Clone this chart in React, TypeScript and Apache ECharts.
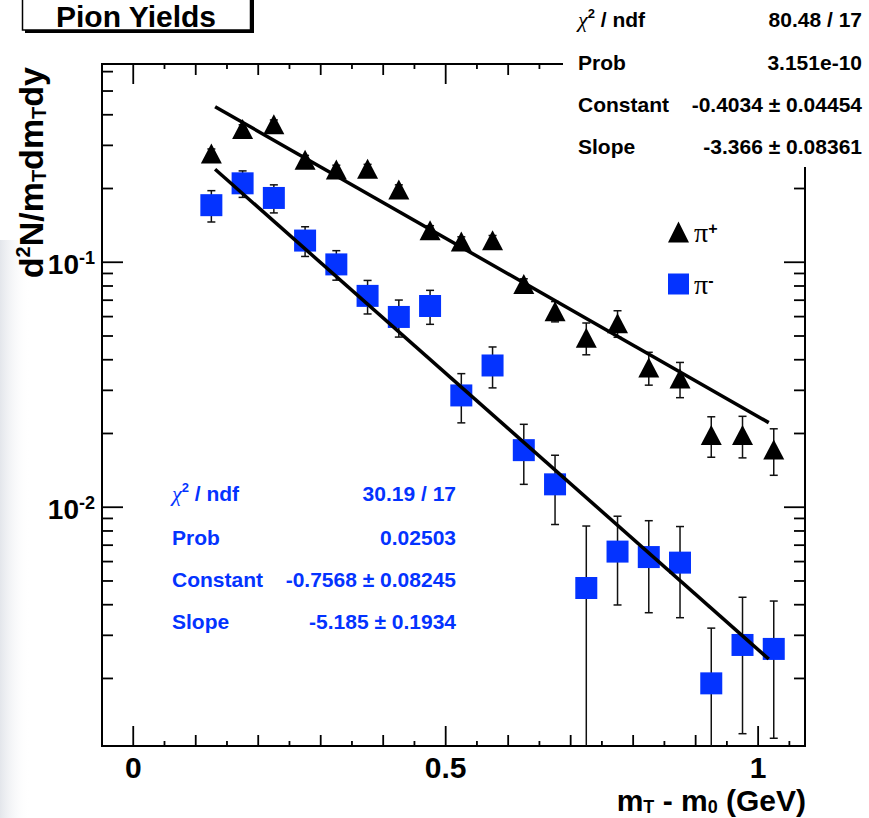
import React, { useEffect, useRef } from 'react';
import * as echarts from 'echarts';

// ---------- data ----------
const binCenters = [0.125, 0.175, 0.225, 0.275, 0.325, 0.375, 0.425, 0.475, 0.525, 0.575, 0.625, 0.675, 0.725, 0.775, 0.825, 0.875, 0.925, 0.975, 1.025];
const piPlusYield = [0.278, 0.35, 0.366, 0.262, 0.239, 0.241, 0.198, 0.135, 0.1215, 0.123, 0.0816, 0.0631, 0.0492, 0.0564, 0.0372, 0.0335, 0.0197, 0.0197, 0.0172];
const piPlusErr = [0.012, 0.014, 0.015, 0.011, 0.01, 0.01, 0.009, 0.006, 0.0055, 0.0056, 0.004, 0.006, 0.0073, 0.007, 0.0057, 0.0055, 0.0037, 0.0038, 0.0037];
const piMinusYield = [0.171, 0.21, 0.183, 0.1226, 0.098, 0.0729, 0.0598, 0.0663, 0.0286, 0.0379, 0.0171, 0.0124, 0.00468, 0.00659, 0.00626, 0.00594, 0.00191, 0.00274, 0.00264];
const piMinusErr = [0.025, 0.026, 0.024, 0.017, 0.0135, 0.0114, 0.0103, 0.0105, 0.0065, 0.0072, 0.0047, 0.0039, 0.0037, 0.0026, 0.00255, 0.0024, 0.0013, 0.00155, 0.0015];

// fit lines (end points)
const piPlusFitX = [0.131, 1.017];
const piPlusFitY = [0.4315, 0.02215];
const piMinusFitX = [0.131, 1.017];
const piMinusFitY = [0.2396, 0.0024];

// axes
const X_MIN = -0.05;
const X_MAX = 1.075;
const Y_MIN = 0.00106;
const Y_MAX = 0.6446;
const xMajorTicks = [0, 0.5, 1];
const xMajorLabels = ['0', '0.5', '1'];
const xMidTicks = [0.1, 0.2, 0.3, 0.4, 0.6, 0.7, 0.8, 0.9];
const xMinorTicks = [0.05, 0.15, 0.25, 0.35, 0.45, 0.55, 0.65, 0.75, 0.85, 0.95, 1.05];
const yMajorTicks = [0.01, 0.1];
const yMajorExponents = ['-2', '-1'];
const yMinorTicks = [0.002, 0.003, 0.004, 0.005, 0.006, 0.007, 0.008, 0.009, 0.02, 0.03, 0.04, 0.05, 0.06, 0.07, 0.08, 0.09, 0.2, 0.3, 0.4, 0.5, 0.6];

// texts
const chartTitle = 'Pion Yields';
const statLabels = ['χ² / ndf', 'Prob', 'Constant', 'Slope'];
const piPlusStats = ['80.48 / 17', '3.151e-10', '-0.4034 ± 0.04454', '-3.366 ± 0.08361'];
const piMinusStats = ['30.19 / 17', '0.02503', '-0.7568 ± 0.08245', '-5.185 ± 0.1934'];
const seriesNames = ['π⁺', 'π⁻'];

const FONT = '"Liberation Sans", Arial, Helvetica, sans-serif';
const SERIF = '"Liberation Serif", "DejaVu Serif", serif';
const BLUE = '#0433ff';

function statRich(color: string) {
  return {
    n: { fontFamily: FONT, fontWeight: 'bold', fontSize: 21, color, lineHeight: 24 },
    c: { fontFamily: SERIF, fontStyle: 'italic', fontSize: 22, color, lineHeight: 24 },
    s: { fontFamily: FONT, fontWeight: 'bold', fontSize: 13, color, lineHeight: 12, verticalAlign: 'top' },
  };
}
function statLabelText(i: number) {
  if (i === 0) return '{c|χ}{s|2}{n| / ndf}';
  return '{n|' + statLabels[i] + '}';
}

function statsBlock(values: string[], color: string, left: number, right: number, ys: number[]) {
  const els: any[] = [];
  ys.forEach((y, i) => {
    els.push({
      type: 'text', x: left, y, z: 60,
      style: { text: statLabelText(i), rich: statRich(color), align: 'left', verticalAlign: 'middle', fill: color },
    });
    els.push({
      type: 'text', x: right, y, z: 60,
      style: { text: values[i], font: 'bold 21px ' + FONT, fill: color, align: 'right', verticalAlign: 'middle' },
    });
  });
  return els;
}

export default function App() {
  const ref = useRef<HTMLDivElement>(null);
  useEffect(() => {
    document.body.style.margin = '0';
    const chart = echarts.init(ref.current as HTMLDivElement, null, { renderer: 'svg', width: 869, height: 818 });

    const tickStyle = { stroke: '#000', lineWidth: 1.8 };
    const xTickData: number[][] = [
      ...xMajorTicks.map((v) => [v, Y_MIN, 0]),
      ...xMidTicks.map((v) => [v, Y_MIN, 1]),
      ...xMinorTicks.map((v) => [v, Y_MIN, 2]),
    ];
    const yTickData: number[][] = [
      ...yMajorTicks.map((v) => [X_MIN, v, 0]),
      ...yMinorTicks.map((v) => [X_MIN, v, 1]),
    ];
    const xLen = [20, 11, 5];
    const yLen = [21, 11];

    const errBar = (params: any, api: any) => {
      const x = api.value(0) as number;
      const y = api.value(1) as number;
      const e = api.value(2) as number;
      const hiV = Math.min(y + e, Y_MAX);
      const clamped = y - e <= Y_MIN;
      const loV = clamped ? Y_MIN : y - e;
      const top = api.coord([x, hiV]);
      const bot = api.coord([x, loV]);
      const st = { stroke: '#111', lineWidth: 1.5 };
      const cap = 4;
      const children: any[] = [
        { type: 'line', shape: { x1: top[0], y1: top[1], x2: bot[0], y2: bot[1] }, style: st },
        { type: 'line', shape: { x1: top[0] - cap, y1: top[1], x2: top[0] + cap, y2: top[1] }, style: st },
      ];
      if (!clamped) children.push({ type: 'line', shape: { x1: bot[0] - cap, y1: bot[1], x2: bot[0] + cap, y2: bot[1] }, style: st });
      return { type: 'group', children };
    };

    const labelRich = {
      b: { fontFamily: FONT, fontWeight: 'bold', fontSize: 28, color: '#000', lineHeight: 30 },
      s: { fontFamily: FONT, fontWeight: 'bold', fontSize: 18, color: '#000', lineHeight: 18, verticalAlign: 'top' },
    };

    const option: any = {
      animation: false,
      backgroundColor: '#fff',
      grid: { left: 102, top: 64, width: 703, height: 682, show: true, borderColor: '#000', borderWidth: 2, backgroundColor: 'transparent' },
      xAxis: {
        type: 'value', min: X_MIN, max: X_MAX,
        axisLine: { show: false }, axisTick: { show: false }, axisLabel: { show: false }, splitLine: { show: false },
      },
      yAxis: {
        type: 'log', logBase: 10, min: Y_MIN, max: Y_MAX,
        axisLine: { show: false }, axisTick: { show: false }, axisLabel: { show: false }, splitLine: { show: false },
      },
      legend: {
        data: seriesNames,
        orient: 'vertical', left: 663, top: 213, itemWidth: 21, itemHeight: 21, itemGap: 24,
        selectedMode: false,
        formatter: (name: string) => (name === seriesNames[0] ? '{p|π}{s|+}' : '{p|π}{s|-}'),
        textStyle: {
          color: '#000', lineHeight: 21,
          rich: {
            p: { fontFamily: SERIF, fontSize: 28, color: '#000', lineHeight: 24 },
            s: { fontFamily: FONT, fontWeight: 'bold', fontSize: 16, color: '#000', lineHeight: 14, verticalAlign: 'top' },
          },
        },
      },
      graphic: [
        { type: 'rect', z: -5, shape: { x: 0, y: 240, width: 30, height: 578 },
          style: { fill: new echarts.graphic.LinearGradient(0, 0, 1, 0, [{ offset: 0, color: '#e3e6eb' }, { offset: 1, color: 'rgba(255,255,255,0)' }]) } },
        // title box
        { type: 'rect', z: 60, shape: { x: 25, y: -3, width: 229, height: 36 }, style: { fill: '#000' } },
        { type: 'rect', z: 61, shape: { x: 22.5, y: -3, width: 228, height: 33 }, style: { fill: '#fff', stroke: '#000', lineWidth: 1.5 } },
        { type: 'text', z: 62, x: 136, y: 16, style: { text: chartTitle, font: 'bold 30px ' + FONT, fill: '#000', align: 'center', verticalAlign: 'middle' } },
        // stats box (covers frame corner)
        { type: 'rect', z: 55, shape: { x: 563, y: 0, width: 306, height: 167 }, style: { fill: '#fff' } },
        ...statsBlock(piPlusStats, '#000', 578, 862, [19, 62, 104, 146]),
        ...statsBlock(piMinusStats, BLUE, 172, 456, [493, 537, 579, 621]),
        // axis titles
        { type: 'text', z: 20, x: 31, y: 67, rotation: Math.PI / 2,
          style: {
            text: '{n|d}{sup|2}{n|N/m}{sub|T}{n|dm}{sub|T}{n|dy}', align: 'right', verticalAlign: 'middle',
            rich: {
              n: { fontFamily: FONT, fontWeight: 'bold', fontSize: 34, color: '#000', lineHeight: 36 },
              sup: { fontFamily: FONT, fontWeight: 'bold', fontSize: 20, color: '#000', lineHeight: 19, verticalAlign: 'top' },
              sub: { fontFamily: FONT, fontWeight: 'bold', fontSize: 20, color: '#000', lineHeight: 15, verticalAlign: 'bottom' },
            },
          } },
        { type: 'text', z: 20, x: 806, y: 800,
          style: {
            text: '{n|m}{sub|T}{n| - m}{sub|0}{n| (GeV)}', align: 'right', verticalAlign: 'middle',
            rich: {
              n: { fontFamily: FONT, fontWeight: 'bold', fontSize: 30, color: '#000', lineHeight: 32 },
              sub: { fontFamily: FONT, fontWeight: 'bold', fontSize: 18, color: '#000', lineHeight: 14, verticalAlign: 'bottom' },
            },
          } },
      ],
      series: [
        {
          type: 'custom', name: 'xticks', silent: true, z: 5, data: xTickData,
          renderItem: (params: any, api: any) => {
            const cs = params.coordSys;
            const p = api.coord([api.value(0), Y_MIN]);
            const len = xLen[api.value(2) as number];
            const b = cs.y + cs.height;
            return { type: 'group', children: [
              { type: 'line', shape: { x1: p[0], y1: b, x2: p[0], y2: b - len }, style: tickStyle },
              { type: 'line', shape: { x1: p[0], y1: cs.y, x2: p[0], y2: cs.y + len }, style: tickStyle },
            ] };
          },
        },
        {
          type: 'custom', name: 'yticks', silent: true, z: 5, data: yTickData,
          renderItem: (params: any, api: any) => {
            const cs = params.coordSys;
            const p = api.coord([X_MIN, api.value(1)]);
            const len = yLen[api.value(2) as number];
            const r = cs.x + cs.width;
            return { type: 'group', children: [
              { type: 'line', shape: { x1: cs.x, y1: p[1], x2: cs.x + len, y2: p[1] }, style: tickStyle },
              { type: 'line', shape: { x1: r, y1: p[1], x2: r - len, y2: p[1] }, style: tickStyle },
            ] };
          },
        },
        {
          type: 'custom', name: 'xlabels', silent: true, z: 5, data: xMajorTicks.map((v, i) => [v, Y_MIN, i]),
          renderItem: (params: any, api: any) => {
            const cs = params.coordSys;
            const p = api.coord([api.value(0), Y_MIN]);
            return { type: 'text', x: p[0], y: cs.y + cs.height + 21,
              style: { text: xMajorLabels[api.value(2) as number], font: 'bold 30px ' + FONT, fill: '#000', align: 'center', verticalAlign: 'middle' } };
          },
        },
        {
          type: 'custom', name: 'ylabels', silent: true, z: 5, data: yMajorTicks.map((v, i) => [X_MIN, v, i]),
          renderItem: (params: any, api: any) => {
            const cs = params.coordSys;
            const p = api.coord([X_MIN, api.value(1)]);
            return { type: 'text', x: cs.x - 7, y: p[1] + 2,
              style: { text: '{b|10}{s|' + yMajorExponents[api.value(2) as number] + '}', rich: labelRich, align: 'right', verticalAlign: 'middle' } };
          },
        },
        {
          type: 'custom', name: 'errPlus', silent: true, z: 6,
          data: binCenters.map((x, i) => [x, piPlusYield[i], piPlusErr[i]]), renderItem: errBar,
        },
        {
          type: 'custom', name: 'errMinus', silent: true, z: 6,
          data: binCenters.map((x, i) => [x, piMinusYield[i], piMinusErr[i]]), renderItem: errBar,
        },
        {
          type: 'scatter', name: seriesNames[0], symbol: 'triangle', symbolSize: [21, 20], z: 7,
          itemStyle: { color: '#000', opacity: 1 }, data: binCenters.map((x, i) => [x, piPlusYield[i]]),
        },
        {
          type: 'scatter', name: seriesNames[1], symbol: 'rect', symbolSize: 22, z: 7,
          itemStyle: { color: BLUE, opacity: 1 }, data: binCenters.map((x, i) => [x, piMinusYield[i]]),
        },
        {
          type: 'line', name: 'fitPlus', showSymbol: false, symbol: 'none', z: 8,
          lineStyle: { color: '#000', width: 3.5 }, data: piPlusFitX.map((x, i) => [x, piPlusFitY[i]]),
        },
        {
          type: 'line', name: 'fitMinus', showSymbol: false, symbol: 'none', z: 8,
          lineStyle: { color: '#000', width: 3.5 }, data: piMinusFitX.map((x, i) => [x, piMinusFitY[i]]),
        },
      ],
    };
    chart.setOption(option);
    return () => chart.dispose();
  }, []);
  return <div ref={ref} style={{ width: 869, height: 818 }} />;
}
